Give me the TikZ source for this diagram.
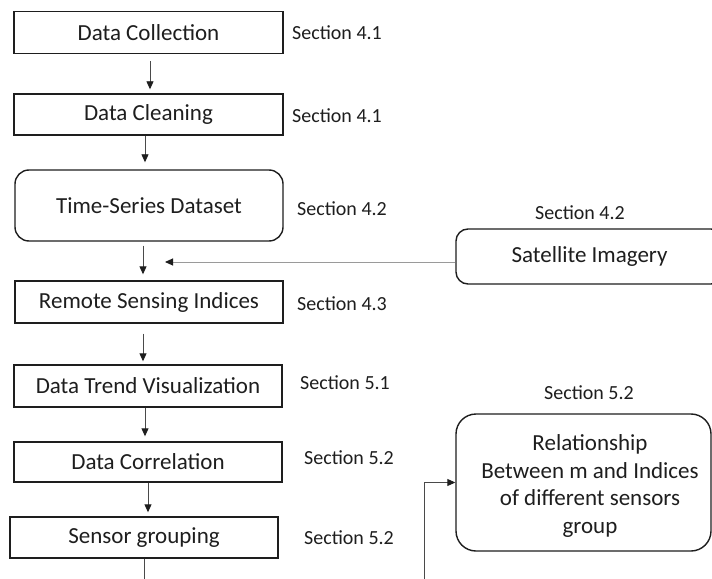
\documentclass[tikz,border=0pt]{standalone}
\usepackage{fontspec}
\setmainfont{Carlito}
\usetikzlibrary{arrows.meta}
\definecolor{ink}{HTML}{1E1E1E}
\definecolor{wire}{HTML}{4A4A4A}
\definecolor{lightwire}{HTML}{9A9A9A}
\tikzset{
  stepbox/.style={draw=ink, line width=1.4bp, rectangle, inner sep=0pt, font=\fontsize{23bp}{27.5bp}\selectfont, text=ink},
  roundbox/.style={stepbox, rounded corners=14bp},
  seclabel/.style={font=\fontsize{20bp}{24bp}\selectfont, text=ink, inner sep=0pt},
  arr/.style={draw=wire, line width=0.9bp, -{Triangle[length=8bp,width=7bp,color=ink]}},
}
\begin{document}
\begin{tikzpicture}[x=1bp,y=-1bp]
\useasboundingbox (0,0) rectangle (712,579);
\clip (0,0) rectangle (712,579);
\fill[white] (0,0) rectangle (712,579);

% left column
\node[stepbox, minimum width=269bp, minimum height=42bp] (dc) at (148.5,32.5) {Data Collection};
\node[stepbox, minimum width=269bp, minimum height=41bp] (dcl) at (148.5,114.5) {Data Cleaning};
\node[roundbox, minimum width=268bp, minimum height=71bp] (ts) at (149,205.5) {Time-Series Dataset};
\node[stepbox, minimum width=268bp, minimum height=42bp] (rsi) at (149,302) {Remote Sensing Indices};
\node[stepbox, minimum width=268bp, minimum height=42bp] (dtv) at (148,386) {Data Trend Visualization};
\node[stepbox, minimum width=268bp, minimum height=40bp] (dcor) at (148,462) {Data Correlation};
\node[stepbox, minimum width=268bp, minimum height=41bp] (sg) at (144,537.5) {Sensor grouping};

% right column
\node[roundbox, rounded corners=12bp, minimum width=267bp, minimum height=55bp] (sat) at (589.5,256.5) {Satellite Imagery};
\node[roundbox, rounded corners=20bp, minimum width=255bp, minimum height=137bp] (rel) at (583.5,482.5) {};
\node[font=\fontsize{23bp}{27.5bp}\selectfont, text=ink, align=center, inner sep=0pt] (reltext) at (590,486) {Relationship\\Between m and Indices\\of different sensors\\group};

% section labels
\node[seclabel, anchor=west] (s1) at (292,33) {Section 4.1};
\node[seclabel, anchor=west] (s2) at (292,116) {Section 4.1};
\node[seclabel, anchor=west] (s3) at (297,209) {Section 4.2};
\node[seclabel, anchor=west] (s4) at (297,304) {Section 4.3};
\node[seclabel, anchor=west] (s5) at (300,383) {Section 5.1};
\node[seclabel, anchor=west] (s6) at (304,458) {Section 5.2};
\node[seclabel, anchor=west] (s7) at (304,538) {Section 5.2};
\node[seclabel] (s8) at (580,213) {Section 4.2};
\node[seclabel] (s9) at (589,393) {Section 5.2};

% connectors
\draw[arr, shorten <=7bp, shorten >=4bp] ([xshift=1.5bp]dc.south) -- ([xshift=1.5bp]dc.south |- dcl.north);
\draw[arr, shorten >=7bp] ([xshift=-3.5bp]dcl.south) -- ([xshift=-3.5bp]dcl.south |- ts.north);
\draw[arr, shorten <=4bp, shorten >=6bp] ([xshift=-6bp]ts.south) -- ([xshift=-6bp]ts.south |- rsi.north);
\draw[arr, shorten <=10bp, shorten >=3bp] ([xshift=-6bp]rsi.south) -- ([xshift=-6bp]rsi.south |- dtv.north);
\draw[arr, shorten >=5bp] ([xshift=-3bp]dtv.south) -- ([xshift=-3bp]dtv.south |- dcor.north);
\draw[arr, shorten >=4bp] (dcor.south) -- (dcor.south |- sg.north);

\coordinate (join) at (165,262);
\draw[arr, draw=lightwire] (sat.west |- join) -- (join);

\coordinate (sgend) at (144,590);
\draw[draw=wire, line width=0.9bp] (sg.south) -- (sgend);

\coordinate (relstart) at (424,590);
\draw[arr, draw=wire] (relstart) |- (rel.west);
\end{tikzpicture}
\end{document}
